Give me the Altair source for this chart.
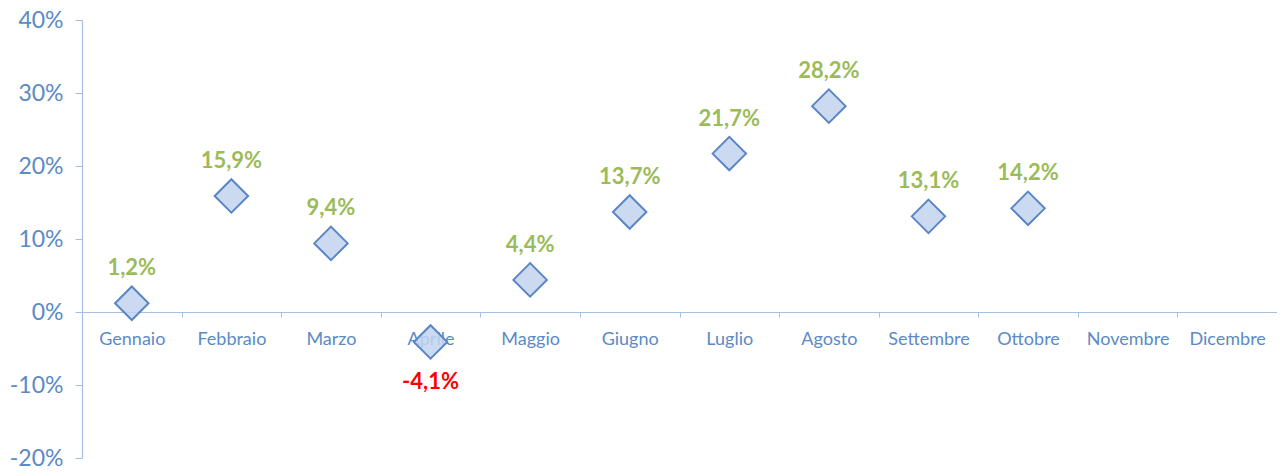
import altair as alt
import pandas as pd

months = ["Gennaio", "Febbraio", "Marzo", "Aprile", "Maggio", "Giugno",
          "Luglio", "Agosto", "Settembre", "Ottobre", "Novembre", "Dicembre"]
values = [0.012, 0.159, 0.094, -0.041, 0.044, 0.137, 0.217, 0.282, 0.131, 0.142, None, None]

df = pd.DataFrame({"mese": months, "val": values})
df["label"] = [
    (f"{v*100:.1f}".replace(".", ",") + "%") if v is not None and not pd.isna(v) else ""
    for v in values
]

FONT = "Lato"
AXIS_BLUE = "#A7BEE3"
LABEL_BLUE = "#5B8AC7"

x = alt.X("mese:N", sort=months, title=None,
          scale=alt.Scale(domain=months, paddingInner=0, paddingOuter=0),
          axis=alt.Axis(offset=-146, tickBand="extent", labelAngle=0,
                        labelFont=FONT, labelFontSize=18, labelColor=LABEL_BLUE,
                        labelPadding=13, domainColor=AXIS_BLUE, tickColor=AXIS_BLUE,
                        tickSize=5, domainWidth=1.2, grid=False))
y = alt.Y("val:Q", title=None,
          scale=alt.Scale(domain=[-0.2, 0.4], nice=False),
          axis=alt.Axis(values=[-0.2, -0.1, 0, 0.1, 0.2, 0.3, 0.4],
                        labelExpr="round(datum.value*100) + '%'",
                        labelFont=FONT, labelFontSize=23, labelColor=LABEL_BLUE,
                        labelPadding=12, domainColor=AXIS_BLUE, tickColor=AXIS_BLUE,
                        tickSize=7, domainWidth=1.2, grid=False))

base = alt.Chart(df).transform_filter("isValid(datum.val)")

points = base.mark_point(shape="diamond", size=1120, filled=True,
                         fill="#C3D3EE", fillOpacity=0.85,
                         stroke="#5A86C5", strokeWidth=2).encode(x=x, y=y)

pos_labels = base.transform_filter("datum.val >= 0").mark_text(
    font=FONT, fontSize=22, fontWeight="bold", color="#9BBB59", dy=-35
).encode(x=x, y=y, text="label:N")

neg_labels = base.transform_filter("datum.val < 0").mark_text(
    font=FONT, fontSize=22, fontWeight="bold", color="#FF0000", dy=40
).encode(x=x, y=y, text="label:N")

chart = alt.layer(points, pos_labels, neg_labels).properties(
    width=1195, height=438,
    autosize=alt.AutoSizeParams(type="none"),
    padding={"left": 74, "top": 12, "right": 0, "bottom": 10},
).configure_view(stroke=None)

chart.save("out.html", embed_options={"renderer": "svg", "actions": False})
